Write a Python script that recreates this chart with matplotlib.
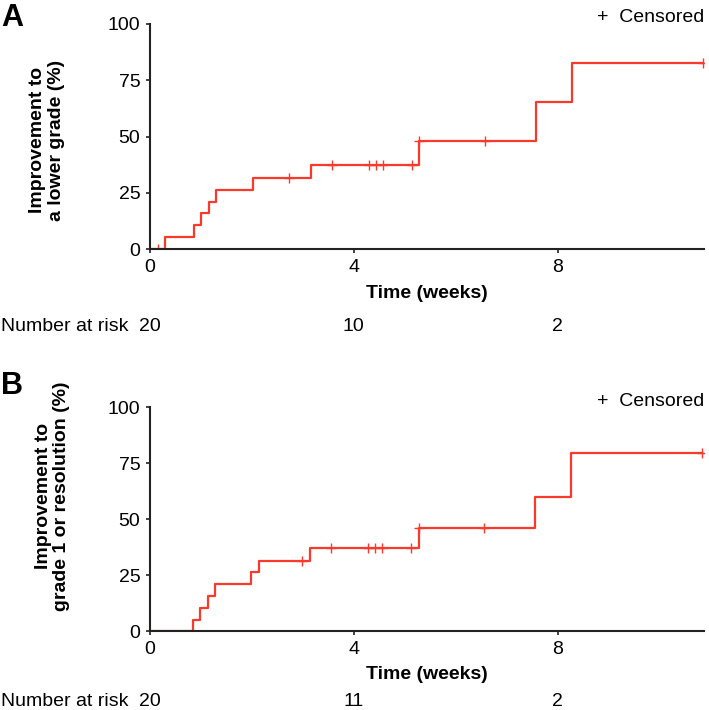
import numpy as np
import matplotlib
matplotlib.use("Agg")
import matplotlib.pyplot as plt

plt.rcParams['font.family'] = ['Liberation Sans', 'DejaVu Sans']

# Panel A: improvement to a lower grade (cumulative %, step curve)
time_a = [0, 0.29, 0.87, 1.01, 1.15, 1.29, 2.03, 3.15, 5.28, 7.57, 8.28, 10.85]
pct_a = [0, 5.3, 10.5, 15.8, 21.1, 26.3, 31.6, 37.4, 47.8, 65.2, 82.6, 82.6]
cens_a = [0.16, 2.73, 3.57, 4.29, 4.44, 4.58, 5.15, 5.28, 6.58, 10.85]
risk_a = [20, 10, 2]

# Panel B: improvement to grade 1 or resolution
time_b = [0, 0.85, 0.99, 1.13, 1.28, 1.99, 2.14, 3.13, 5.27, 7.56, 8.27, 10.83]
pct_b = [0, 5.1, 10.3, 15.6, 21.0, 26.3, 31.5, 37.3, 46.2, 60.0, 79.8, 79.8]
cens_b = [2.99, 3.55, 4.27, 4.41, 4.56, 5.13, 5.27, 6.56, 10.83]
risk_b = [20, 11, 2]

risk_times = [0, 4, 8]
red = '#f9392b'

fig = plt.figure(figsize=(7.09, 7.10), dpi=100)
ax_a = fig.add_axes([150/709, 1 - 249/710, 554/709, 225/710])
ax_b = fig.add_axes([150/709, 1 - 631.3/710, 554/709, 224/710])

panels = [
    (ax_a, time_a, pct_a, cens_a, risk_a, "Improvement to\na lower grade (%)",
     (-0.154, 0.484), -44/225, -0.345, 1.027, "A", 1 - 3/710),
    (ax_b, time_b, pct_b, cens_b, risk_b, "Improvement to\ngrade 1 or resolution (%)",
     (-0.144, 0.604), -43.7/224, -0.314, 1.025, "B", 1 - 371/710),
]

for ax, t, p, c, risk, ylab, ylc, xly, risky, ceny, letter, lety in panels:
    t = np.array(t)
    p = np.array(p)
    ax.step(t, p, where='post', color=red, lw=1.6)
    # censor marks sit on the curve
    idx = np.searchsorted(t, c, side='right') - 1
    ax.plot(c, p[idx], ls='none', marker='+', ms=7, mew=1.0, color=red)

    ax.set_xlim(0, 10.87)
    ax.set_ylim(0, 100)
    ax.set_xticks([0, 4, 8])
    ax.set_yticks([0, 25, 50, 75, 100])
    ax.tick_params(labelsize=14, width=1.2, length=3, pad=4, color='#222222')
    for s in ['top', 'right']:
        ax.spines[s].set_visible(False)
    for s in ['left', 'bottom']:
        ax.spines[s].set_linewidth(1.5)
        ax.spines[s].set_color('#222222')
    ax.spines['left'].set_zorder(0)

    ax.set_ylabel(ylab, fontsize=14, fontweight='bold', linespacing=1.1)
    ax.yaxis.set_label_coords(*ylc)
    ax.set_xlabel("Time (weeks)", fontsize=14, fontweight='bold')
    ax.xaxis.label.set_va('center')
    ax.xaxis.set_label_coords(0.5, xly)

    trans = ax.get_xaxis_transform()
    for x, n in zip(risk_times, risk):
        ax.text(x, risky, str(n), transform=trans, ha='center', va='center', fontsize=14)
    fig.text(0.002, ax.get_position().y0 + risky * ax.get_position().height,
             "Number at risk", ha='left', va='center', fontsize=14)

    ax.text(1.0, ceny, "+  Censored", transform=ax.transAxes, ha='right', va='center',
            fontsize=14)
    fig.text(0.002, lety, letter, ha='left', va='top', fontsize=22, fontweight='bold')

fig.savefig("out.png", dpi=100)
